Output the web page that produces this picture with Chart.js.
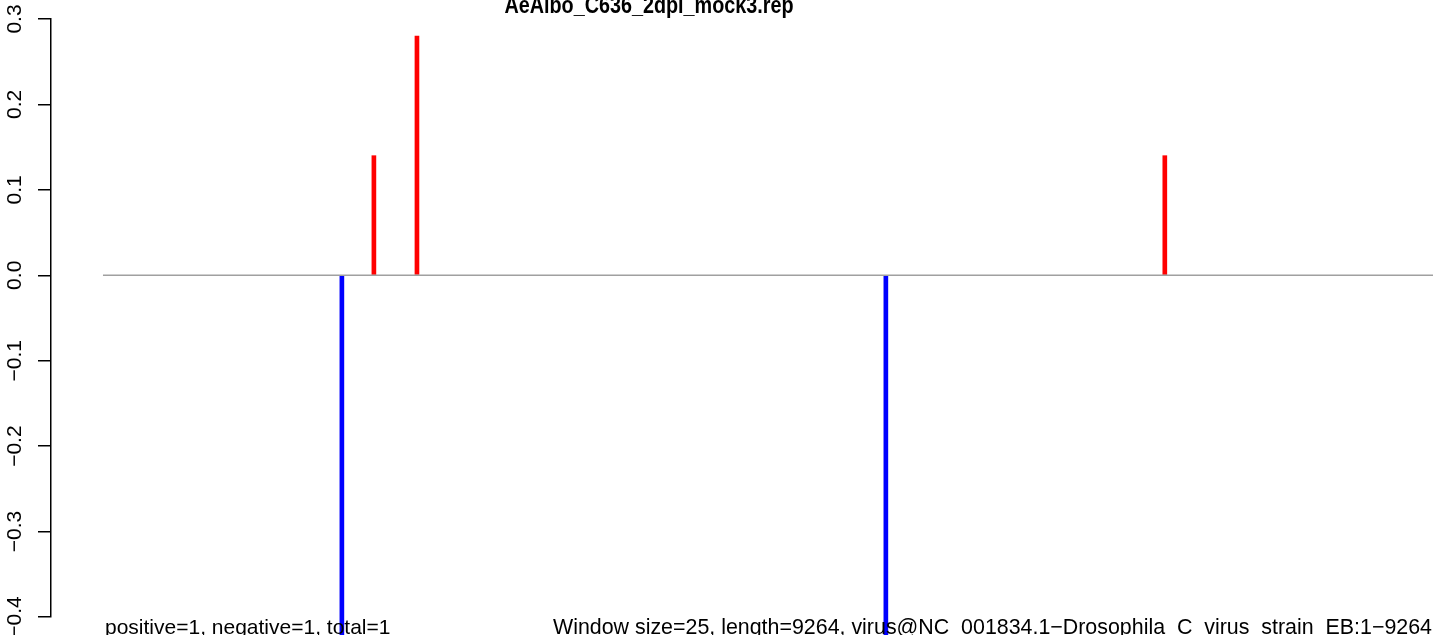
<!DOCTYPE html>
<html>
<head>
<meta charset="utf-8">
<script src="https://cdn.jsdelivr.net/npm/chart.js@4.4.1/dist/chart.umd.min.js"></script>
<style>
  html, body { margin: 0; padding: 0; background: #fff; }
  #wrap { width: 1433px; height: 635px; }
</style>
</head>
<body>
<div id="wrap"><canvas id="plot"></canvas></div>
<script>
// positions (nt) and values
const positions = [1664, 1887, 2187, 5453, 7396];
const values = [-0.45, 0.14, 0.28, -0.45, 0.14];
const yTicks = [0.3, 0.2, 0.1, 0.0, -0.1, -0.2, -0.3, -0.4];
const genomeLength = 9264;

const titleText = "AeAlbo_C636_2dpi_mock3.rep";
const leftNote = "positive=1, negative=1, total=1";
const rightNote = "Window size=25, length=9264, virus@NC_001834.1\u2212Drosophila_C_virus_strain_EB:1\u22129264";

const FONT = "'Liberation Sans', Arial, Helvetica, sans-serif";

const barData = positions.map((p, i) => ({ x: p, y: values[i] }));
const barColors = values.map(v => v >= 0 ? "#ff0000" : "#0000ff");

const rPlot = {
    id: "rPlot",
    afterDraw(chart) {
        const ctx = chart.ctx;
        const y = chart.scales.y;
        ctx.save();
        ctx.fillStyle = "#000";
        // rotated y tick labels
        ctx.font = "21px " + FONT;
        ctx.textAlign = "center";
        ctx.textBaseline = "alphabetic";
        yTicks.forEach(t => {
            const py = y.getPixelForValue(t);
            ctx.save();
            ctx.translate(21, py);
            ctx.rotate(-Math.PI / 2);
            ctx.fillText(t.toFixed(1).replace("-", "\u2212"), 0, 0);
            ctx.restore();
        });
        // title (narrow bold face, cut at the top like the original)
        ctx.save();
        ctx.font = "bold 23px " + FONT;
        ctx.textAlign = "center";
        ctx.translate(649, 13);
        ctx.scale(0.86, 1);
        ctx.fillText(titleText, 0, 0);
        ctx.restore();
        // bottom notes
        ctx.font = "21px " + FONT;
        ctx.textAlign = "left";
        ctx.fillText(leftNote, 105, 634);
        ctx.font = "21.4px " + FONT;
        ctx.textAlign = "right";
        ctx.fillText(rightNote, 1432, 634);
        ctx.restore();
    }
};

new Chart(document.getElementById("plot"), {
    type: "bar",
    data: {
        datasets: [
            {
                type: "line",
                data: [{ x: 0, y: 0 }, { x: genomeLength, y: 0 }],
                borderColor: "#a0a0a0",
                borderWidth: 1.6,
                pointRadius: 0,
                order: 0
            },
            {
                data: barData,
                backgroundColor: barColors,
                barThickness: 4,
                clip: false,
                order: 1
            }
        ]
    },
    options: {
        responsive: true,
        maintainAspectRatio: false,
        animation: false,
        layout: { padding: { left: 38, top: 19, right: 0, bottom: 18 } },
        plugins: {
            legend: { display: false },
            tooltip: { enabled: false },
            title: { display: false }
        },
        scales: {
            x: {
                type: "linear",
                display: false,
                offset: false,
                min: -362,
                max: genomeLength
            },
            y: {
                min: -0.4,
                max: 0.3,
                afterBuildTicks: axis => { axis.ticks = yTicks.map(v => ({ value: v })); },
                ticks: { display: false },
                grid: {
                    drawOnChartArea: false,
                    drawTicks: true,
                    tickLength: 13,
                    color: "#000",
                    lineWidth: 1.5
                },
                border: { display: true, color: "#000", width: 1.5 }
            }
        }
    },
    plugins: [rPlot]
});
</script>
</body>
</html>
